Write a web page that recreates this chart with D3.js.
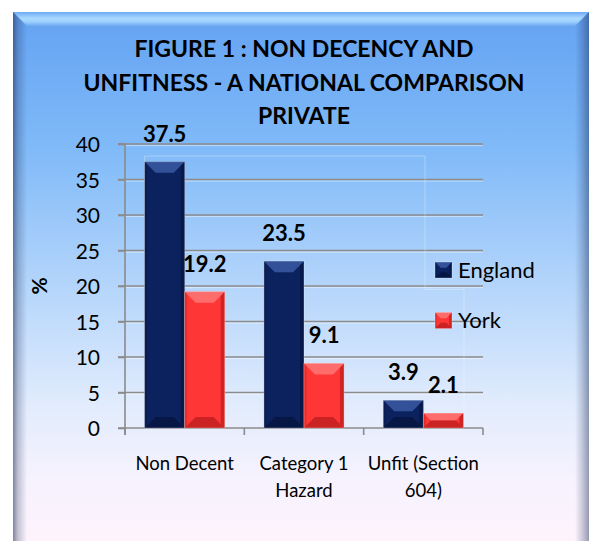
<!DOCTYPE html>
<html>
<head>
<meta charset="utf-8">
<script src="https://cdn.jsdelivr.net/npm/d3@7"></script>
<style>
  html, body { margin: 0; padding: 0; background: #ffffff; }
  svg { display: block; }
  text { font-family: Lato, "Open Sans", "DejaVu Sans", sans-serif; fill: #000; }
</style>
</head>
<body>
<svg id="chart" width="589" height="541"></svg>
<script>
// ---- data ----
const categories = [["Non Decent"], ["Category 1", "Hazard"], ["Unfit (Section", "604)"]];
const categoryKeys = ["Non Decent", "Category 1 Hazard", "Unfit (Section 604)"];
const seriesNames = ["England", "York"];
const englandValues = [37.5, 23.5, 3.9];
const yorkValues = [19.2, 9.1, 2.1];
const yTicks = [0, 5, 10, 15, 20, 25, 30, 35, 40];
const titleLines = ["FIGURE 1 : NON DECENCY AND", "UNFITNESS - A NATIONAL COMPARISON", "PRIVATE"];
const yLabel = "%";

const seriesValues = { England: englandValues, York: yorkValues };
const palette = {
  England: { body: "#0c225f", light: "#3d5ea6", dark: "#040f33", side: "#071846" },
  York:    { body: "#fe3636", light: "#ff7a7a", dark: "#a81818", side: "#c92222" }
};

const svg = d3.select("#chart");
const defs = svg.append("defs");

// ---- frame background ----
const bg = defs.append("linearGradient").attr("id", "bg").attr("x1", 0).attr("y1", 0).attr("x2", 0).attr("y2", 1);
[[0, "#64a2f2"], [0.25, "#80baf8"], [0.5, "#b4d5fb"], [0.72, "#e2ecfd"], [0.85, "#f6f2fe"], [1, "#fff4fc"]]
  .forEach(([o, c]) => bg.append("stop").attr("offset", o).attr("stop-color", c));

const topBev = defs.append("linearGradient").attr("id", "topBev").attr("x1", 0).attr("y1", 0).attr("x2", 0).attr("y2", 1);
[[0, "#6eaaf4"], [0.45, "#a9d9ff"], [0.7, "#9cd0fd"], [1, "#6ea8f2"]]
  .forEach(([o, c]) => topBev.append("stop").attr("offset", o).attr("stop-color", c));

const leftBev = defs.append("linearGradient").attr("id", "leftBev").attr("x1", 0).attr("y1", 0).attr("x2", 1).attr("y2", 0);
[[0, "#1a2a55", 0.55], [0.35, "#1a2a55", 0.25], [1, "#1a2a55", 0]]
  .forEach(([o, c, a]) => leftBev.append("stop").attr("offset", o).attr("stop-color", c).attr("stop-opacity", a));

const rightBev = defs.append("linearGradient").attr("id", "rightBev").attr("x1", 0).attr("y1", 0).attr("x2", 1).attr("y2", 0);
[[0, "#1a2a55", 0], [0.5, "#1a2a55", 0.2], [1, "#1a2a55", 0.45]]
  .forEach(([o, c, a]) => rightBev.append("stop").attr("offset", o).attr("stop-color", c).attr("stop-opacity", a));

const fx0 = 13, fy0 = 12, fx1 = 589, fy1 = 560, bev = 14;
svg.append("rect").attr("x", fx0).attr("y", fy0).attr("width", fx1 - fx0).attr("height", fy1 - fy0).attr("fill", "url(#bg)");
svg.append("polygon").attr("points", [[fx0, fy0], [fx1, fy0], [fx1 - bev, fy0 + bev], [fx0 + bev, fy0 + bev]].join(" "))
  .attr("fill", "url(#topBev)");
svg.append("polygon").attr("points", [[fx0, fy0], [fx0 + bev, fy0 + bev], [fx0 + bev, fy1], [fx0, fy1]].join(" "))
  .attr("fill", "url(#leftBev)");
svg.append("polygon").attr("points", [[fx1, fy0], [fx1, fy1], [fx1 - bev, fy1], [fx1 - bev, fy0 + bev]].join(" "))
  .attr("fill", "url(#rightBev)");

// ---- title ----
const title = svg.append("text").attr("text-anchor", "middle").attr("font-weight", "bold").attr("font-size", 23);
titleLines.forEach((t, i) => title.append("tspan").attr("x", 304).attr("y", 57 + i * 33.5).text(t));

// ---- scales ----
const plot = { left: 125, right: 483, top: 144, bottom: 428 };
const x0 = d3.scaleBand().domain(categoryKeys).range([plot.left, plot.right]).padding(0);
const x1 = d3.scaleBand().domain(seriesNames).range([0, x0.bandwidth()]).paddingInner(0).paddingOuter(0.49);
const y = d3.scaleLinear().domain([0, 40]).range([plot.bottom, plot.top]);

// ---- gridlines ----
const grid = svg.append("g");
yTicks.filter(t => t > 0).forEach(t => {
  grid.append("line").attr("x1", plot.left - 7).attr("x2", plot.right).attr("y1", y(t)).attr("y2", y(t))
    .attr("stroke", "#8b8b8b").attr("stroke-width", 1.6);
  grid.append("line").attr("x1", plot.left).attr("x2", plot.right).attr("y1", y(t) + 1.6).attr("y2", y(t) + 1.6)
    .attr("stroke", "#ffffff").attr("stroke-opacity", 0.45).attr("stroke-width", 1);
});

// faint back wall outline
const wallX = x0(categoryKeys[0]) + x1("England");
const wallPath = d3.path();
wallPath.moveTo(wallX, plot.bottom);
wallPath.lineTo(wallX, y(38.3));
wallPath.lineTo(425, y(38.3));
wallPath.lineTo(425, y(19.5));
wallPath.lineTo(464, y(19.5));
wallPath.lineTo(464, plot.bottom);
svg.append("path").attr("d", wallPath.toString()).attr("fill", "none")
  .attr("stroke", "#ffffff").attr("stroke-opacity", 0.3).attr("stroke-width", 1);

// ---- axes ----
const yAxis = d3.axisLeft(y).tickValues(yTicks).tickSize(7).tickPadding(18);
const yg = svg.append("g").attr("transform", `translate(${plot.left},0)`).call(yAxis);
yg.select(".domain").attr("stroke", "#8b8b8b").attr("stroke-width", 1.6).attr("d", `M-7,${plot.top}H0V${plot.bottom + 7}`);
yg.selectAll(".tick line").attr("stroke", "#8b8b8b").attr("stroke-width", 1.6);
yg.selectAll(".tick text").attr("font-size", 21).attr("font-family", "Lato, 'Open Sans', sans-serif").attr("fill", "#000").attr("dy", "0.36em");

const xAxis = svg.append("g");
xAxis.append("line").attr("x1", plot.left - 7).attr("x2", plot.right).attr("y1", plot.bottom).attr("y2", plot.bottom)
  .attr("stroke", "#8b8b8b").attr("stroke-width", 1.6);
const boundaries = categoryKeys.map(k => x0(k)).concat([x0(categoryKeys[categoryKeys.length - 1]) + x0.bandwidth()]);
boundaries.forEach(bx => xAxis.append("line").attr("x1", bx).attr("x2", bx).attr("y1", plot.bottom).attr("y2", plot.bottom + 7)
  .attr("stroke", "#8b8b8b").attr("stroke-width", 1.6));
categoryKeys.forEach((k, i) => {
  const t = xAxis.append("text").attr("text-anchor", "middle").attr("font-size", 18.5);
  categories[i].forEach((line, j) => t.append("tspan").attr("x", x0(k) + x0.bandwidth() / 2).attr("y", 470 + j * 27).text(line));
});

// y axis title
svg.append("text").attr("transform", "translate(38,286) rotate(-90)").attr("text-anchor", "middle")
  .attr("dominant-baseline", "central").attr("font-weight", "bold").attr("font-size", 21).text(yLabel);

// ---- beveled bar drawing ----
function bevelBox(g, bx, by, bw, bh, c) {
  const b = Math.min(11, bh / 2, bw / 3);
  const s = Math.min(4, bw / 6);
  g.append("rect").attr("x", bx).attr("y", by).attr("width", bw).attr("height", bh).attr("fill", c.body);
  // top highlight
  g.append("polygon").attr("points", [[bx, by], [bx + bw, by], [bx + bw - b, by + b], [bx + b, by + b]].join(" "))
    .attr("fill", c.light).attr("fill-opacity", 0.8);
  // bottom shade
  g.append("polygon").attr("points", [[bx, by + bh], [bx + bw, by + bh], [bx + bw - b, by + bh - b], [bx + b, by + bh - b]].join(" "))
    .attr("fill", c.dark).attr("fill-opacity", 0.6);
  // right side shade
  g.append("polygon").attr("points", [[bx + bw, by], [bx + bw, by + bh], [bx + bw - s, by + bh - s], [bx + bw - s, by + s]].join(" "))
    .attr("fill", c.side).attr("fill-opacity", 0.9);
  // left side soft edge
  g.append("polygon").attr("points", [[bx, by], [bx, by + bh], [bx + s * 0.6, by + bh - s * 0.6], [bx + s * 0.6, by + s * 0.6]].join(" "))
    .attr("fill", c.side).attr("fill-opacity", 0.5);
  g.append("rect").attr("x", bx).attr("y", by).attr("width", bw).attr("height", bh).attr("fill", "none")
    .attr("stroke", "#ffffff").attr("stroke-opacity", 0.35).attr("stroke-width", 0.8);
}

const bars = svg.append("g");
categoryKeys.forEach((k, i) => {
  seriesNames.forEach(s => {
    const v = seriesValues[s][i];
    const bx = x0(k) + x1(s);
    const bw = x1.bandwidth();
    bevelBox(bars, bx, y(v), bw, y(0) - y(v), palette[s]);
    bars.append("text").attr("x", bx + bw / 2).attr("y", y(v) - 20).attr("text-anchor", "middle")
      .attr("font-weight", "bold").attr("font-size", 22).text(d3.format(".1f")(v));
  });
});

// ---- legend ----
const legend = svg.append("g");
seriesNames.forEach((s, i) => {
  const ly = 262 + i * 50.5;
  bevelBox(legend, 435, ly, 17, 16, palette[s]);
  legend.append("text").attr("x", 458).attr("y", ly + 15.5).attr("font-size", 22).text(s);
});
</script>
</body>
</html>
